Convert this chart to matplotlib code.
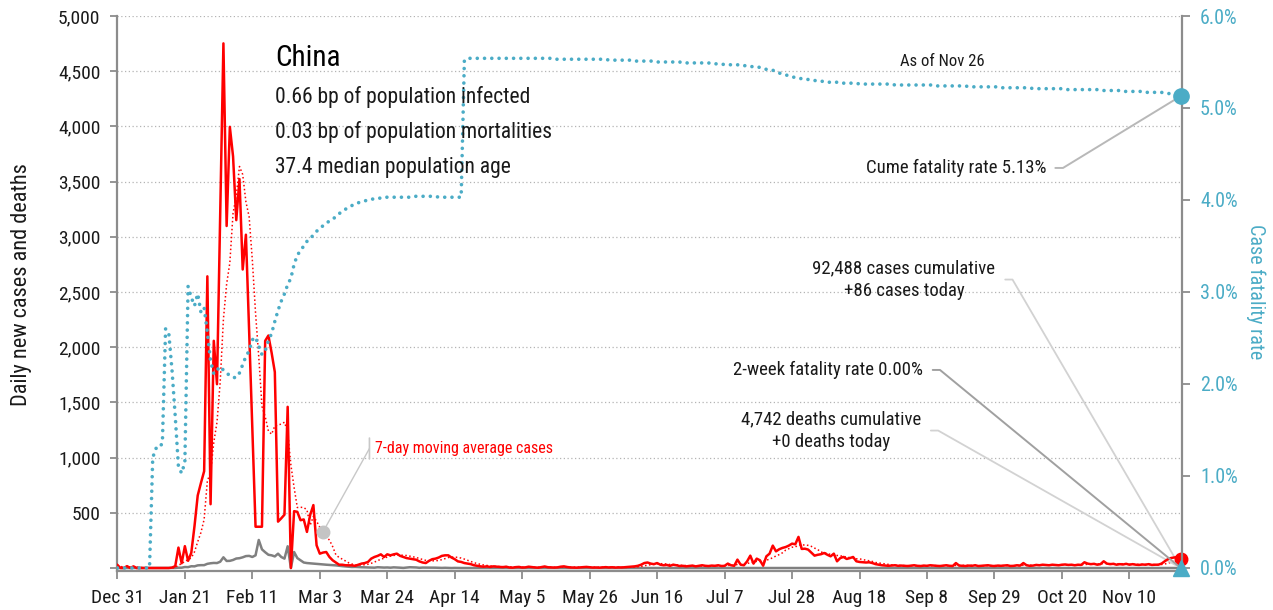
import numpy as np
import pandas as pd
import matplotlib
matplotlib.use("Agg")
import matplotlib.pyplot as plt
import matplotlib.font_manager as fm
from matplotlib.text import OffsetFrom

# pick a condensed face if one is installed
installed = {f.name for f in fm.fontManager.ttflist}
face = "Roboto"
for cand in ["Roboto Condensed", "Liberation Sans Narrow", "DejaVu Sans Condensed", "Open Sans Condensed"]:
    if cand in installed:
        face = cand
        break
plt.rcParams["font.family"] = [face, "DejaVu Sans"]
fs = 1.0 if face != "Roboto" else 0.85

# ---- data ----
start_date = "2019-12-31"
end_date = "2020-11-26"

# daily new cases: Dec 31, then one block per month
new_cases = [
    27,
    # Jan
    0, 0, 17, 0, 15, 0, 0, 0, 0, 0, 0, 0, 0, 0, 0, 0, 4, 17, 185, 43,
    198, 65, 138, 380, 657, 770, 877, 2642, 578, 2058, 1665,
    # Feb
    3210, 4752, 3098, 3996, 3728, 3151, 3523, 2704, 3019, 2150, 1250, 374, 374, 374, 2058,
    2106, 1950, 1775, 420, 450, 483, 1460, 0, 515, 509, 433, 440, 327, 480,
    # Mar
    570, 206, 130, 140, 145, 100, 70, 50, 30, 30, 25, 24, 24, 20, 30, 40,
    45, 55, 85, 100, 110, 124, 100, 124, 115, 124, 130, 110, 100, 90, 85,
    # Apr
    80, 75, 60, 50, 45, 65, 80, 85, 95, 110, 115, 115, 95, 80, 60,
    55, 45, 40, 35, 25, 20, 15, 12, 15, 10, 15, 12, 10, 8, 12,
    # May
    5, 3, 8, 10, 4, 6, 12, 8, 5, 3, 9, 14, 7, 5, 4, 6,
    12, 15, 9, 5, 4, 3, 6, 8, 10, 7, 4, 5, 3, 6, 8,
    # Jun
    5, 7, 4, 6, 5, 8, 10, 12, 15, 20, 30, 45, 50, 40, 35,
    45, 30, 25, 28, 20, 30, 25, 18, 20, 15, 18, 22, 15, 20, 25,
    # Jul
    20, 18, 22, 20, 25, 18, 20, 40, 25, 20, 76, 30, 25, 60, 112, 40,
    85, 70, 21, 106, 130, 203, 151, 170, 182, 190, 203, 221, 215, 282, 173,
    # Aug
    175, 167, 140, 112, 120, 125, 136, 120, 106, 130, 61, 90, 100, 82, 90, 100,
    61, 55, 52, 50, 52, 45, 35, 30, 25, 22, 20, 22, 25, 20, 22,
    # Sep
    20, 18, 22, 25, 20, 18, 22, 20, 25, 22, 20, 18, 22, 25, 20,
    18, 45, 22, 20, 18, 22, 20, 25, 18, 20, 22, 25, 20, 18, 22,
    # Oct
    20, 22, 25, 18, 20, 25, 22, 45, 25, 20, 22, 28, 25, 30, 28, 25,
    30, 28, 25, 30, 32, 28, 30, 25, 30, 28, 52, 40, 35, 38, 30,
    # Nov 1-26
    35, 61, 40, 35, 38, 30, 35, 32, 38, 30, 35, 30, 28,
    32, 30, 35, 28, 30, 30, 40, 61, 80, 91, 95, 100, 86,
]

# daily new deaths
new_deaths = [
    0,
    # Jan
    0, 0, 0, 0, 0, 0, 0, 0, 0, 0, 1, 0, 0, 0, 0, 0, 0, 1, 3, 3,
    9, 8, 16, 15, 24, 26, 26, 38, 43, 46, 45,
    # Feb
    57, 97, 64, 65, 73, 86, 89, 97, 108, 110, 100, 115, 254, 169, 143,
    120, 115, 105, 130, 100, 85, 197, 0, 145, 90, 70, 50, 45, 42,
    # Mar
    40, 38, 35, 32, 30, 28, 25, 24, 20, 17, 14, 11, 9, 10, 8, 7,
    6, 5, 4, 3, 7, 5, 4, 5, 3, 6, 5, 3, 1, 4, 7,
    # Apr
    6, 5, 2, 4, 4, 3, 3, 3, 2, 1, 2, 1, 0, 1, 0,
    0, 0, 0, 0, 0, 0, 0, 0, 0, 0, 0, 0, 0, 0, 0,
    # May
    0, 0, 0, 0, 0, 0, 0, 0, 0, 0, 0, 0, 0, 0, 0, 0,
    0, 0, 0, 0, 0, 0, 0, 0, 0, 0, 0, 0, 0, 0, 0,
    # Jun
    0, 0, 0, 0, 0, 0, 0, 0, 0, 0, 0, 0, 0, 0, 0,
    0, 0, 0, 0, 0, 0, 0, 0, 0, 0, 0, 0, 0, 0, 0,
    # Jul
    0, 0, 0, 0, 0, 0, 0, 0, 0, 0, 0, 0, 0, 0, 0, 0,
    0, 0, 0, 0, 0, 0, 0, 0, 0, 0, 0, 0, 0, 0, 0,
    # Aug
    0, 0, 0, 0, 0, 0, 0, 0, 0, 0, 0, 0, 0, 0, 0, 0,
    0, 0, 0, 0, 0, 0, 0, 0, 0, 0, 0, 0, 0, 0, 0,
    # Sep
    0, 0, 0, 0, 0, 0, 0, 0, 0, 0, 0, 0, 0, 0, 0,
    0, 0, 0, 0, 0, 0, 0, 0, 0, 0, 0, 0, 0, 0, 0,
    # Oct
    0, 0, 0, 0, 0, 0, 0, 0, 0, 0, 0, 0, 0, 0, 0, 0,
    0, 0, 0, 0, 0, 0, 0, 0, 0, 0, 0, 0, 0, 0, 0,
    # Nov 1-26
    0, 0, 0, 0, 0, 0, 0, 0, 0, 0, 0, 0, 0,
    0, 0, 0, 0, 0, 0, 0, 0, 0, 0, 0, 0, 0,
]

# cumulative case fatality rate, percent
cfr_pct = [
    0.00,
    # Jan
    0.00, 0.00, 0.00, 0.00, 0.00, 0.00, 0.00, 0.00, 0.00, 0.00, 1.20, 1.30, 1.30, 1.36, 2.60, 2.55,
    2.15, 1.65, 1.10, 1.03, 1.15, 3.06, 2.94, 2.85, 2.98, 2.78, 2.83, 2.56, 2.25, 2.11, 2.15,
    # Feb
    2.19, 2.15, 2.12, 2.09, 2.07, 2.07, 2.12, 2.21, 2.30, 2.36, 2.48, 2.51, 2.41, 2.32, 2.36,
    2.47, 2.55, 2.68, 2.80, 2.90, 2.98, 3.08, 3.15, 3.30, 3.40, 3.45, 3.50, 3.55, 3.58,
    # Mar
    3.62, 3.66, 3.69, 3.72, 3.75, 3.77, 3.79, 3.82, 3.85, 3.88, 3.90, 3.92, 3.94, 3.95, 3.97, 3.98,
    3.99, 4.00, 4.01, 4.01, 4.02, 4.02, 4.03, 4.03, 4.03, 4.03, 4.03, 4.03, 4.03, 4.03, 4.03,
    # Apr
    4.04, 4.04, 4.04, 4.04, 4.04, 4.04, 4.04, 4.04, 4.03, 4.03, 4.03, 4.03, 4.03, 4.03, 4.03,
    4.03, 5.52, 5.54, 5.54, 5.54, 5.54, 5.54, 5.54, 5.54, 5.54, 5.54, 5.54, 5.54, 5.54, 5.54,
    # May
    5.54, 5.54, 5.54, 5.54, 5.54, 5.54, 5.54, 5.54, 5.54, 5.54, 5.54, 5.54, 5.54, 5.54, 5.53, 5.53,
    5.53, 5.53, 5.53, 5.53, 5.53, 5.53, 5.53, 5.53, 5.53, 5.53, 5.53, 5.53, 5.53, 5.53, 5.53,
    # Jun
    5.52, 5.52, 5.52, 5.52, 5.52, 5.52, 5.52, 5.52, 5.51, 5.51, 5.51, 5.51, 5.51, 5.51, 5.51,
    5.50, 5.50, 5.50, 5.50, 5.50, 5.50, 5.50, 5.50, 5.49, 5.49, 5.49, 5.49, 5.49, 5.49, 5.49,
    # Jul
    5.49, 5.49, 5.48, 5.48, 5.48, 5.48, 5.47, 5.47, 5.47, 5.47, 5.47, 5.46, 5.46, 5.46, 5.45, 5.45,
    5.45, 5.44, 5.43, 5.42, 5.41, 5.41, 5.40, 5.38, 5.37, 5.36, 5.35, 5.34, 5.33, 5.32, 5.32,
    # Aug
    5.31, 5.31, 5.30, 5.30, 5.29, 5.29, 5.29, 5.28, 5.28, 5.28, 5.28, 5.27, 5.27, 5.27, 5.27, 5.27,
    5.27, 5.26, 5.26, 5.26, 5.26, 5.26, 5.26, 5.26, 5.26, 5.26, 5.26, 5.26, 5.25, 5.25, 5.25,
    # Sep
    5.25, 5.25, 5.25, 5.25, 5.25, 5.25, 5.25, 5.25, 5.25, 5.25, 5.24, 5.24, 5.24, 5.24, 5.24,
    5.24, 5.24, 5.24, 5.24, 5.24, 5.23, 5.23, 5.23, 5.23, 5.23, 5.23, 5.23, 5.23, 5.23, 5.23,
    # Oct
    5.22, 5.22, 5.22, 5.22, 5.22, 5.22, 5.22, 5.22, 5.22, 5.22, 5.21, 5.21, 5.21, 5.21, 5.21, 5.21,
    5.21, 5.21, 5.21, 5.21, 5.20, 5.20, 5.20, 5.20, 5.20, 5.20, 5.20, 5.20, 5.20, 5.20, 5.20,
    # Nov 1-26
    5.19, 5.19, 5.19, 5.19, 5.19, 5.19, 5.19, 5.18, 5.18, 5.18, 5.18, 5.18, 5.18,
    5.18, 5.17, 5.17, 5.17, 5.17, 5.17, 5.17, 5.16, 5.16, 5.15, 5.15, 5.14, 5.13,
]

country = "China"
info_lines = ["0.66 bp of population infected",
              "0.03 bp of population mortalities",
              "37.4 median population age"]
cum_cases = 92488
cum_deaths = 4742
two_week_cfr = 0.00

dates = pd.date_range(start_date, end_date, freq="D")
assert len(new_cases) == len(dates), len(new_cases)
assert len(new_deaths) == len(dates), len(new_deaths)
assert len(cfr_pct) == len(dates), len(cfr_pct)

cases = pd.Series(new_cases, index=dates, dtype=float)
deaths = pd.Series(new_deaths, index=dates, dtype=float)
cfr = pd.Series(cfr_pct, index=dates)
ma7 = cases.rolling(7, min_periods=1).mean()
cume_cfr = cum_deaths / cum_cases * 100

tick_dates = pd.date_range(start_date, end_date, freq="21D")

# ---- figure ----
W, H = 1273, 610
teal = "#4bacc6"
ink = "#1a1a1a"
axis_gray = "#8c8c8c"


def fig_px(x, y):
    # pixel position (from top-left) -> figure fraction
    return x / W, 1 - y / H


fig = plt.figure(figsize=(W / 100, H / 100), dpi=100)
ax = fig.add_axes([117 / W, 39 / H, 1065 / W, 555 / H])
ax2 = ax.twinx()

ax.set_xlim(dates[0] - pd.Timedelta(hours=3), dates[-1] + pd.Timedelta(hours=9))
ax.set_ylim(-27, 5000)
ax2.set_ylim(-0.033, 6.0)

# dotted gridlines at the left-axis ticks
for v in range(500, 5001, 500):
    ax.axhline(v, color="#b4b4b4", lw=0.9, ls=(0, (1, 2)), zorder=0)

ax.plot(dates, deaths, color="#808080", lw=1.8, zorder=3)
ax.plot(dates, ma7, color="red", lw=1.1, ls=(0, (1, 1.6)), zorder=3)
ax.plot(dates, cases, color="red", lw=1.8, zorder=4)
ax.plot(dates[-1], cases.iloc[-1], "o", color="red", ms=9, zorder=6, clip_on=False)

ax2.plot(dates, cfr, color=teal, lw=2.6, ls=(0, (0.01, 2.0)), dash_capstyle="round", zorder=3)
ax2.plot(dates[-1], cfr.iloc[-1], "o", color=teal, ms=11, zorder=6, clip_on=False)
ax2.plot(dates[-1], two_week_cfr, "^", color=teal, ms=11, zorder=6, clip_on=False)

# axes styling
for a in (ax, ax2):
    a.spines["top"].set_visible(False)
ax.spines["right"].set_visible(False)
ax2.spines["left"].set_visible(False)
ax2.spines["bottom"].set_visible(False)
for s in (ax.spines["left"], ax.spines["bottom"], ax2.spines["right"]):
    s.set_color(axis_gray)
    s.set_linewidth(1.6)

ax.set_yticks(range(0, 5001, 500))
ax.set_yticklabels([""] + [f"{v:,}" for v in range(500, 5001, 500)])
ax.tick_params(axis="y", length=5, width=1.3, color=axis_gray, labelsize=14 * fs,
               labelcolor=ink, pad=7)
ax.set_xticks(tick_dates)
ax.set_xticklabels([f"{d:%b} {d.day}" for d in tick_dates])
ax.tick_params(axis="x", length=6, width=1.3, color=axis_gray, labelsize=14 * fs,
               labelcolor=ink, pad=7)

ax2.set_yticks(range(0, 7))
ax2.set_yticklabels([f"{v:.1f}%" for v in range(0, 7)])
ax2.tick_params(axis="y", length=6, width=1.3, color=axis_gray, labelsize=14.5 * fs,
                labelcolor=teal, pad=7)

ax.set_ylabel("Daily new cases and deaths", fontsize=16 * fs, color=ink, va="center")
ax.yaxis.set_label_coords((22 - 117) / 1065, (571 - 285) / 555)
ax2.set_ylabel("Case fatality rate", fontsize=14.5 * fs, color=teal, rotation=270, va="center")
ax2.yaxis.set_label_coords((1256 - 117) / 1065, (571 - 292) / 555)

# title block
fig.text(*fig_px(275, 66), country, fontsize=21 * fs, color="black", va="baseline")
for i, line in enumerate(info_lines):
    fig.text(*fig_px(275, 103 + 35 * i), line, fontsize=15.5 * fs, color=ink, va="baseline")

fig.text(*fig_px(942, 66), f"As of {dates[-1]:%b} {dates[-1].day}", fontsize=12 * fs,
         color=ink, ha="center", va="baseline")

# leader-line annotations (multi-line texts are placed by their last baseline)
ax2.annotate(f"Cume fatality rate {cume_cfr:.2f}%", xy=(dates[-1], cfr.iloc[-1]),
             xytext=fig_px(1047, 173), textcoords="figure fraction",
             ha="right", va="baseline", fontsize=13.5 * fs, color=ink,
             arrowprops=dict(arrowstyle="-", color="#b8b8b8", lw=1.4, shrinkA=4, shrinkB=0,
                             relpos=(1, 0.5),
                             connectionstyle="arc,angleA=0,armA=16,armB=0,rad=0"))

ax.annotate(f"{cum_cases:,} cases cumulative\n+{int(cases.iloc[-1])} cases today",
            xy=(dates[-1], 0), xytext=fig_px(904, 296), textcoords="figure fraction",
            ha="center", va="baseline", multialignment="center", linespacing=1.35,
            fontsize=13.5 * fs, color=ink,
            arrowprops=dict(arrowstyle="-", color="#d2d2d2", lw=1.3, shrinkA=5, shrinkB=0,
                            relpos=(1, 0.5),
                            connectionstyle="arc,angleA=0,armA=17,armB=0,rad=0"))

ax2.annotate(f"2-week fatality rate {two_week_cfr:.2f}%", xy=(dates[-1], two_week_cfr),
             xytext=fig_px(923, 375), textcoords="figure fraction",
             ha="right", va="baseline", fontsize=13.5 * fs, color=ink,
             arrowprops=dict(arrowstyle="-", color="#a0a0a0", lw=1.4, shrinkA=5, shrinkB=0,
                             relpos=(1, 0.5),
                             connectionstyle="arc,angleA=0,armA=17,armB=0,rad=0"))

ax.annotate(f"{cum_deaths:,} deaths cumulative\n+{int(deaths.iloc[-1])} deaths today",
            xy=(dates[-1], 0), xytext=fig_px(831, 447), textcoords="figure fraction",
            ha="center", va="baseline", multialignment="center", linespacing=1.35,
            fontsize=13.5 * fs, color=ink,
            arrowprops=dict(arrowstyle="-", color="#d2d2d2", lw=1.3, shrinkA=5, shrinkB=0,
                            relpos=(1, 0.5),
                            connectionstyle="arc,angleA=0,armA=17,armB=0,rad=0"))

# 7-day average call-out: dot on the curve, leader and a small bar by the text
ma_day = pd.Timestamp("2020-03-04")
ax.plot(ma_day, ma7[ma_day], "o", color="#c4c4c4", ms=9, zorder=7)
ma_txt = fig.text(*fig_px(375, 453), "7-day moving average cases", fontsize=11.5 * fs,
                  color="red", ha="left", va="baseline")
bar_ref = OffsetFrom(ma_txt, (0, 0.5))
ax.annotate("", xy=(ma_day, ma7[ma_day]), xytext=(-4, 0), textcoords=bar_ref,
            arrowprops=dict(arrowstyle="-", color="#c8c8c8", lw=1.0, shrinkA=0, shrinkB=3))
ax.annotate("", xy=(-4, -7.5), xycoords=bar_ref, xytext=(-4, 7.5), textcoords=bar_ref,
            arrowprops=dict(arrowstyle="-", color="#c8c8c8", lw=1.2, shrinkA=0, shrinkB=0))

fig.savefig("out.png", dpi=100, facecolor="white")
